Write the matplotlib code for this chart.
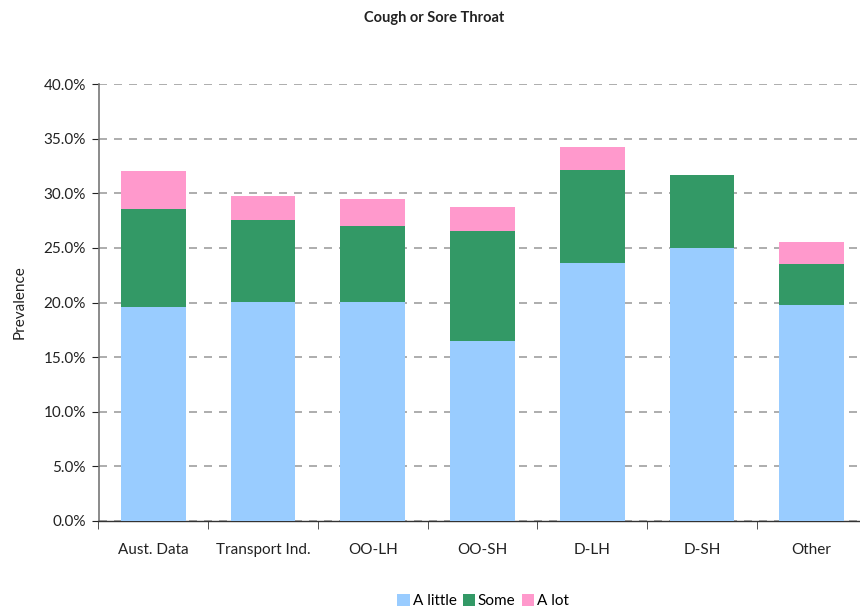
import matplotlib
matplotlib.use("Agg")
import matplotlib.pyplot as plt
from matplotlib.ticker import FuncFormatter, FixedLocator, NullFormatter
import numpy as np

plt.rcParams['font.family'] = ['Lato', 'DejaVu Sans']

categories = ["Aust. Data", "Transport Ind.", "OO-LH", "OO-SH", "D-LH", "D-SH", "Other"]
a_little = [19.6, 20.05, 20.05, 16.5, 23.6, 25.0, 19.8]
some = [9.0, 7.5, 6.95, 10.0, 8.55, 6.7, 3.75]
a_lot = [3.45, 2.2, 2.45, 2.2, 2.1, 0.0, 1.95]
series_names = ["A little", "Some", "A lot"]
colors = ["#99CCFF", "#339966", "#FF99CC"]

fig = plt.figure(figsize=(8.6, 6.1), dpi=100)
ax = fig.add_axes([98.5/860, 89/610, 768/860, 437/610])

x = np.arange(len(categories))
w = 0.59
bottom = np.zeros(len(categories))
handles = []
for vals, name, c in zip([a_little, some, a_lot], series_names, colors):
    v = np.array(vals)
    h = ax.bar(x, v, w, bottom=bottom, color=c, label=name, zorder=3)
    handles.append(h)
    bottom += v

ax.set_xlim(-0.5, len(categories) - 0.5)
ax.set_ylim(0, 40)
ax.set_yticks(np.arange(0, 40.1, 5))
ax.yaxis.set_major_formatter(FuncFormatter(lambda v, p: f"{v:.1f}%"))
ax.yaxis.grid(True, linestyle=(0, (4.8, 4.2)), color="#A0A0A0", linewidth=1.2, zorder=0)
ax.set_axisbelow(True)

ax.set_xticks(x)
ax.set_xticklabels(categories)
ax.tick_params(axis='x', which='major', length=0, pad=16, labelsize=11, colors="#222222")
ax.xaxis.set_minor_locator(FixedLocator(np.arange(-0.5, len(categories), 1.0)))
ax.xaxis.set_minor_formatter(NullFormatter())
ax.tick_params(axis='x', which='minor', length=6, direction='out', color="#333333")
ax.tick_params(axis='y', length=5, direction='out', labelsize=11, colors="#222222", pad=4)

for s in ['top', 'right']:
    ax.spines[s].set_visible(False)
ax.spines['left'].set_color("#777777")
ax.spines['left'].set_linewidth(1.2)
ax.spines['bottom'].set_color("#333333")
ax.spines['bottom'].set_linewidth(1.0)

ax.set_ylabel("Prevalence", fontsize=11, color="#222222", labelpad=12)
fig.text(434/860, 1 - 18/610, "Cough or Sore Throat", ha='center', va='center', fontsize=10.5, fontweight='bold', color="#222222")

fig.legend(handles=handles, labels=series_names, loc='center', bbox_to_anchor=(483/860, 1 - 601/610),
           ncol=3, frameon=False, fontsize=11, handlelength=0.8, handleheight=0.8,
           handletextpad=0.2, columnspacing=0.4, borderaxespad=0)

fig.savefig("out.png", dpi=100)
